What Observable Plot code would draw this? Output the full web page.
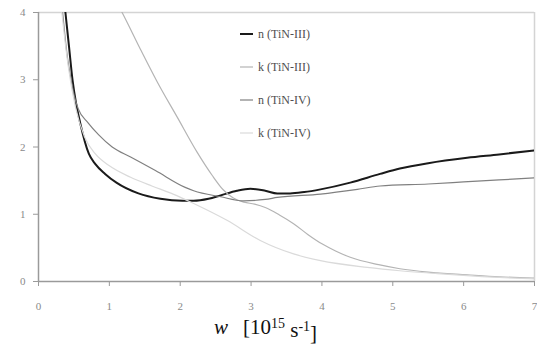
<!DOCTYPE html>
<html>
<head>
<meta charset="utf-8">
<script src="https://cdn.jsdelivr.net/npm/d3@7"></script>
<script src="https://cdn.jsdelivr.net/npm/@observablehq/plot@0.6"></script>
<style>
  html, body { margin: 0; padding: 0; background: #fff; }
</style>
</head>
<body>
<div id="chart"></div>
<script>
// Series names
const seriesNames = ["n (TiN-III)", "k (TiN-III)", "n (TiN-IV)", "k (TiN-IV)"];

// n (TiN-III)
const nIII_w = [0.36, 0.38, 0.43, 0.48, 0.53, 0.59, 0.71, 0.80, 0.94, 1.10, 1.41, 1.72, 2.03, 2.19, 2.40, 2.57, 2.80, 2.99, 3.20, 3.37, 3.55, 3.75, 3.98, 4.40, 4.82, 5.10, 5.50, 6.05, 6.50, 7.00];
const nIII_v = [4.2, 4.0, 3.5, 3.0, 2.65, 2.35, 1.90, 1.75, 1.60, 1.47, 1.31, 1.23, 1.20, 1.20, 1.23, 1.28, 1.35, 1.38, 1.35, 1.31, 1.31, 1.33, 1.37, 1.47, 1.60, 1.68, 1.76, 1.84, 1.89, 1.95];

// k (TiN-III)
const kIII_w = [1.15, 1.18, 1.44, 1.68, 1.96, 2.24, 2.45, 2.61, 2.75, 2.90, 3.05, 3.20, 3.40, 3.60, 3.80, 4.00, 4.20, 4.40, 4.80, 5.10, 5.50, 6.05, 6.50, 7.00];
const kIII_v = [4.06, 4.0, 3.45, 2.96, 2.44, 1.92, 1.58, 1.36, 1.24, 1.18, 1.15, 1.10, 0.99, 0.86, 0.70, 0.56, 0.45, 0.36, 0.25, 0.19, 0.14, 0.10, 0.07, 0.05];

// n (TiN-IV)
const nIV_w = [0.32, 0.34, 0.40, 0.46, 0.50, 0.56, 0.70, 0.85, 1.04, 1.30, 1.65, 2.07, 2.19, 2.57, 2.89, 3.20, 3.37, 3.98, 4.50, 4.82, 5.50, 6.00, 6.50, 7.00];
const nIV_v = [4.2, 4.0, 3.4, 3.0, 2.78, 2.57, 2.36, 2.18, 2.00, 1.85, 1.65, 1.40, 1.35, 1.26, 1.20, 1.22, 1.25, 1.30, 1.37, 1.42, 1.45, 1.48, 1.51, 1.54];

// k (TiN-IV)
const kIV_w = [0.31, 0.33, 0.42, 0.52, 0.65, 0.80, 1.00, 1.30, 1.60, 1.90, 2.19, 2.66, 3.13, 3.60, 3.98, 4.64, 5.10, 5.60, 6.00, 6.50, 7.00];
const kIV_v = [4.2, 4.0, 3.2, 2.6, 2.15, 1.90, 1.72, 1.55, 1.42, 1.30, 1.16, 0.91, 0.61, 0.41, 0.31, 0.21, 0.16, 0.12, 0.09, 0.06, 0.04];

// Axis ticks
const xTicks = [0, 1, 2, 3, 4, 5, 6, 7];
const yTicks = [0, 1, 2, 3, 4];

const series = [
  {name: seriesNames[0], w: nIII_w, v: nIII_v},
  {name: seriesNames[1], w: kIII_w, v: kIII_v},
  {name: seriesNames[2], w: nIV_w, v: nIV_v},
  {name: seriesNames[3], w: kIV_w, v: kIV_v}
];
const rows = series.flatMap(s => s.w.map((w, i) => ({series: s.name, w, v: s.v[i]})));

const styles = {
  "n (TiN-III)": {stroke: "#1a1a1a", width: 2},
  "k (TiN-III)": {stroke: "#b4b4b4", width: 1.2},
  "n (TiN-IV)": {stroke: "#808080", width: 1.2},
  "k (TiN-IV)": {stroke: "#dadada", width: 1.2}
};

const SERIF = "'Liberation Serif', 'Times New Roman', serif";
const W = 537, H = 346;
const mLeft = 38, mRight = 3, mTop = 12, mBottom = 65;

const lineMarks = seriesNames.map(name =>
  Plot.line(rows.filter(d => d.series === name), {
    x: "w", y: "v", curve: "monotone-x",
    stroke: styles[name].stroke, strokeWidth: styles[name].width, clip: true
  })
);

const plot = Plot.plot({
  width: W, height: H,
  marginLeft: mLeft, marginRight: mRight, marginTop: mTop, marginBottom: mBottom,
  style: {fontFamily: SERIF, fontSize: "11px", color: "#8a8a8a", background: "#fff"},
  x: {domain: [0, 7]},
  y: {domain: [0, 4]},
  marks: [
    Plot.ruleY([4], {stroke: "#d4d4d4", strokeWidth: 1.5}),
    Plot.ruleX([7], {stroke: "#d4d4d4", strokeWidth: 1.5}),
    ...lineMarks,
    Plot.ruleY([0], {stroke: "#9a9a9a", strokeWidth: 1.5}),
    Plot.ruleX([0], {stroke: "#9a9a9a", strokeWidth: 1.5}),
    Plot.axisX({ticks: xTicks, tickFormat: d => String(d), tickSize: 5, tickPadding: 16,
      stroke: "#9a9a9a", fill: "#8a8a8a", label: null, fontFamily: SERIF, fontSize: 11}),
    Plot.axisY({ticks: yTicks, tickFormat: d => String(d), tickSize: 5, tickPadding: 8,
      stroke: "#9a9a9a", fill: "#8a8a8a", label: null, fontFamily: SERIF, fontSize: 11})
  ]
});

document.getElementById("chart").appendChild(plot);

// Legend (inside plot area)
const svg = d3.select(plot);
const leg = svg.append("g").attr("text-anchor", "start");
const legY = [34, 67, 100, 133];
seriesNames.forEach((name, i) => {
  leg.append("line")
    .attr("x1", 240).attr("x2", 253)
    .attr("y1", legY[i]).attr("y2", legY[i])
    .attr("stroke", styles[name].stroke)
    .attr("stroke-width", styles[name].width);
  leg.append("text")
    .attr("x", 258).attr("y", legY[i])
    .attr("dy", "0.35em")
    .attr("text-anchor", "start")
    .attr("fill", "#505050")
    .style("font-family", SERIF)
    .style("font-size", "12px")
    .text(name);
});

// X axis title: w [10^15 s^-1]
const title = svg.append("text")
  .attr("x", 214).attr("y", 334)
  .attr("text-anchor", "start")
  .attr("fill", "#111")
  .style("font-family", SERIF)
  .style("font-size", "21px");
title.append("tspan").style("font-style", "italic").text("w");
title.append("tspan").attr("x", 243).text("[10");
title.append("tspan").attr("dy", "-0.45em").style("font-size", "14px").text("15");
title.append("tspan").attr("dy", "0.45em").text(" s");
title.append("tspan").attr("dy", "-0.45em").style("font-size", "14px").text("-1");
title.append("tspan").attr("dy", "0.45em").text("]");
</script>
</body>
</html>
